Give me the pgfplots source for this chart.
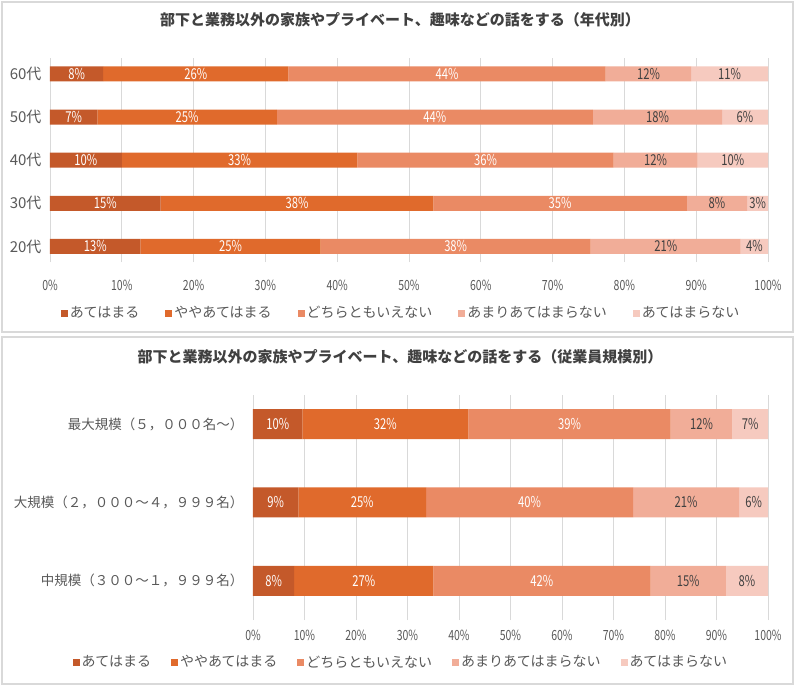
\documentclass[border=0pt]{standalone}
\usepackage{pgfplots}
\pgfplotsset{compat=1.18}
\usepackage{pgfplotstable}
\usepackage{graphicx}
\usepackage{fontspec}
\setmainfont{Noto Sans CJK JP}
\definecolor{c1}{HTML}{C4592A}
\definecolor{c2}{HTML}{E06A2C}
\definecolor{c3}{HTML}{EA8A64}
\definecolor{c4}{HTML}{F1AD98}
\definecolor{c5}{HTML}{F6CABF}
\definecolor{txt}{HTML}{595959}
\definecolor{dark}{HTML}{404040}
\definecolor{gridc}{HTML}{D9D9D9}
\definecolor{framec}{HTML}{D9D9D9}

% age groups: y=0 20代 ... y=4 60代
\pgfplotstableread{
y a b c d e la lb lc ld le
0 12.6 25.1 37.6 20.9 3.8 13 25 38 21 4
1 15.4 38.0 35.3 8.4 2.9 15 38 35 8 3
2 10.0 32.8 35.7 11.7 9.8 10 33 36 12 10
3 6.6 25.0 44.0 18.0 6.4 7 25 44 18 6
4 7.4 25.8 44.2 11.9 10.7 8 26 44 12 11
}\agedata

% company size: y=0 中規模, 1 大規模, 2 最大規模
\pgfplotstableread{
y a b c d e la lb lc ld le
0 8.0 27.0 42.2 14.6 8.2 8 27 42 15 8
1 8.8 24.8 40.2 20.6 5.6 9 25 40 21 6
2 9.6 32.2 39.3 12.0 6.9 10 32 39 12 7
}\sizedata

\pgfplotsset{
  sqlegend/.style={legend image code/.code={\fill[##1,draw=none] (0pt,-3.5pt) rectangle (7pt,3.5pt);}},
  /pgf/number format/assume math mode=true,
  lab/.style={draw=none, mark=none,
    nodes near coords={\scalebox{0.75}[1]{\pgfmathprintnumber{\pgfplotspointmeta}\%}},
    every node near coord/.append style={text=#1, anchor=center, inner sep=0pt, font=\fontsize{15}{17}\selectfont}},
}

\newcommand{\seg}[3]{%
  \addplot[fill=#3, draw=none, sqlegend] table[x=#2, y=y] {#1};
}
\newcommand{\labels}[1]{%
  \addplot[lab=white] table[x expr=\thisrow{a}/2, y=y, meta=la] {#1};
  \addplot[lab=white] table[x expr=\thisrow{a}+\thisrow{b}/2, y=y, meta=lb] {#1};
  \addplot[lab=white] table[x expr=\thisrow{a}+\thisrow{b}+\thisrow{c}/2, y=y, meta=lc] {#1};
  \addplot[lab=dark] table[x expr=\thisrow{a}+\thisrow{b}+\thisrow{c}+\thisrow{d}/2, y=y, meta=ld] {#1};
  \addplot[lab=dark] table[x expr=\thisrow{a}+\thisrow{b}+\thisrow{c}+\thisrow{d}+\thisrow{e}/2, y=y, meta=le] {#1};
}

\begin{document}
\begin{tikzpicture}
\fill[white] (0pt,0pt) rectangle (800pt,-686pt);
\useasboundingbox (0pt,0pt) rectangle (800pt,-686pt);
\draw[framec, line width=1.5pt, fill=white] (2pt,-2pt) rectangle (793pt,-332pt);
\draw[framec, line width=1.5pt, fill=white] (2pt,-337pt) rectangle (793pt,-684pt);

\node[text=dark, font=\fontsize{15}{18}\selectfont\bfseries] at (400pt,-20pt) {部下と業務以外の家族やプライベート、趣味などの話をする（年代別）};
\node[text=dark, font=\fontsize{15}{18}\selectfont\bfseries] at (400pt,-357pt) {部下と業務以外の家族やプライベート、趣味などの話をする（従業員規模別）};

\begin{axis}[
  at={(50pt,-262pt)}, anchor=south west,
  scale only axis, width=718pt, height=204pt,
  xbar stacked, bar width=15pt,
  xmin=0, xmax=100, ymin=-0.36, ymax=4.37,
  xtick={0,10,...,100}, ytick={0,1,2,3,4},
  yticklabels={20代,30代,40代,50代,60代},
  xticklabel={\scalebox{0.75}[1]{\pgfmathprintnumber{\tick}\%}},
  axis line style={draw=none}, major tick length=0pt,
  xmajorgrids, grid style={gridc, line width=0.8pt},
  tick label style={text=txt, font=\fontsize{14}{16}\selectfont},
  x tick label style={anchor=center, yshift=-23pt},
  y tick label style={anchor=east, xshift=-5pt, font=\fontsize{15}{17}\selectfont},
  legend columns=5,
  legend style={draw=none, fill=none, at={(0.489,-0.25)}, anchor=center,
    font=\fontsize{14}{16}\selectfont, text=txt,
    /tikz/every even column/.append style={column sep=24pt}},
  sqlegend,
]
\seg{\agedata}{a}{c1}
\seg{\agedata}{b}{c2}
\seg{\agedata}{c}{c3}
\seg{\agedata}{d}{c4}
\seg{\agedata}{e}{c5}
\legend{あてはまる,ややあてはまる,どちらともいえない,あまりあてはまらない,あてはまらない}
\end{axis}
\begin{axis}[
  at={(50pt,-262pt)}, anchor=south west,
  scale only axis, width=718pt, height=204pt,
  xmin=0, xmax=100, ymin=-0.36, ymax=4.37,
  hide axis, point meta=explicit, clip=false,
]
\labels{\agedata}
\end{axis}

\begin{axis}[
  at={(253pt,-620pt)}, anchor=south west,
  scale only axis, width=515pt, height=225pt,
  xbar stacked, bar width=30pt,
  xmin=0, xmax=100, ymin=-0.5, ymax=2.37,
  xtick={0,10,...,100}, ytick={0,1,2},
  yticklabels={{中規模（３００～１，９９９名）},{大規模（２，０００～４，９９９名）},{最大規模（５，０００名～）}},
  xticklabel={\scalebox{0.75}[1]{\pgfmathprintnumber{\tick}\%}},
  axis line style={draw=none}, major tick length=0pt,
  xmajorgrids, grid style={gridc, line width=0.8pt},
  tick label style={text=txt, font=\fontsize{14}{16}\selectfont},
  x tick label style={anchor=center, yshift=-15pt},
  y tick label style={anchor=east, xshift=-6pt, font=\fontsize{13.5}{16}\selectfont},
  legend columns=5,
  legend style={draw=none, fill=none, at={(0.287,-0.187)}, anchor=center,
    font=\fontsize{14}{16}\selectfont, text=txt,
    /tikz/every even column/.append style={column sep=18pt}},
  sqlegend,
]
\seg{\sizedata}{a}{c1}
\seg{\sizedata}{b}{c2}
\seg{\sizedata}{c}{c3}
\seg{\sizedata}{d}{c4}
\seg{\sizedata}{e}{c5}
\legend{あてはまる,ややあてはまる,どちらともいえない,あまりあてはまらない,あてはまらない}
\end{axis}
\begin{axis}[
  at={(253pt,-620pt)}, anchor=south west,
  scale only axis, width=515pt, height=225pt,
  xmin=0, xmax=100, ymin=-0.5, ymax=2.37,
  hide axis, point meta=explicit, clip=false,
]
\labels{\sizedata}
\end{axis}
\end{tikzpicture}
\end{document}
